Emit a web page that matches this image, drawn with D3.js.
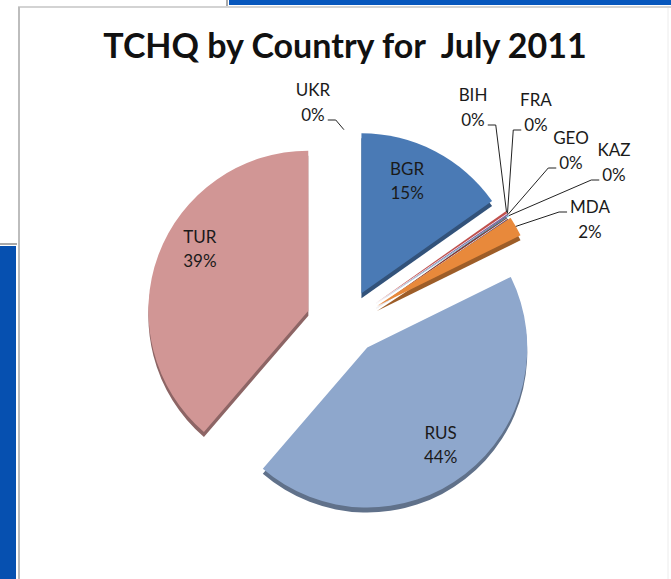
<!DOCTYPE html>
<html>
<head>
<meta charset="utf-8">
<script src="https://cdn.jsdelivr.net/npm/d3@7"></script>
<style>
  body { margin: 0; background: #fff; }
  svg { display: block; }
</style>
</head>
<body>
<div id="chart"></div>
<script>
// chart data (tiny shares are < 0.5% so they show 0%)
const countries = ["BGR", "BIH", "FRA", "GEO", "KAZ", "MDA", "RUS", "TUR", "UKR"];
const shares    = [15.2, 0.25, 0.02, 0.15, 0.1, 2.0, 43.6, 38.67, 0.01];
const colors    = ["#4a7ab5", "#c0504d", "#9bbb59", "#8064a2", "#4bacc6", "#e8893b", "#8ea7cc", "#d19695", "#b9d08c"];
const titleText = "TCHQ by Country for  July 2011";

// hand placed labels for the thin slices (text centre of first line)
const outsideLabels = {
  UKR: { x: 313, y: 90, side: "right", line: 1 },
  BIH: { x: 473, y: 95, side: "right", line: 1 },
  FRA: { x: 536, y: 100, side: "left", line: 1 },
  GEO: { x: 571, y: 138, side: "left", line: 1 },
  KAZ: { x: 614, y: 150, side: "left", line: 1 },
  MDA: { x: 590, y: 207, side: "left", line: 0 }
};
// small nudges for the inside labels (excel moves them a bit in 3d)
const labelNudge = { BGR: [-11, -3], TUR: [7, -19], RUS: [-2, 0] };

var W = 671, H = 579;
var svg = d3.select("#chart").append("svg")
    .attr("width", W)
    .attr("height", H)
    .style("font-family", "Lato, 'Open Sans', sans-serif");

// ---- window frame bits around the chart
svg.append("rect").attr("x", 229).attr("y", 0).attr("width", W - 229).attr("height", 5).attr("fill", "#0757bd");
svg.append("line").attr("x1", 227).attr("x2", 227).attr("y1", 0).attr("y2", 6).attr("stroke", "#a9a9a9").attr("stroke-width", 2);
svg.append("line").attr("x1", 18).attr("x2", W).attr("y1", 7).attr("y2", 7).attr("stroke", "#c4c4c4").attr("stroke-width", 1.5);
svg.append("line").attr("x1", 0).attr("x2", 17).attr("y1", 244).attr("y2", 244).attr("stroke", "#a9a9a9").attr("stroke-width", 2);
svg.append("rect").attr("x", 0).attr("y", 246).attr("width", 16).attr("height", H - 246).attr("fill", "#0650b0");
svg.append("line").attr("x1", 19).attr("x2", 19).attr("y1", 7).attr("y2", H).attr("stroke", "#bdbdbd").attr("stroke-width", 2);
svg.append("line").attr("x1", 668).attr("x2", 668).attr("y1", 8).attr("y2", H).attr("stroke", "#ececec").attr("stroke-width", 1);

// ---- title
svg.append("text")
    .attr("x", 345)
    .attr("y", 58)
    .attr("text-anchor", "middle")
    .style("font-size", "34px")
    .style("font-weight", "bold")
    .attr("fill", "#111")
    .style("white-space", "pre")
    .text(titleText);

// ---- pie
var cx = 344, cy = 322, r = 160, explode = 38, explodeY = 0.85, depth = 5;
var data = countries.map((c, i) => ({ id: c, value: shares[i], color: colors[i] }));
var total = d3.sum(shares);

var pie = d3.pie().sort(null).value(d => d.value);
var arc = d3.arc().innerRadius(0).outerRadius(r);
var arcs = pie(data);
// slices thinner than a pixel hair are not drawn (only their labels)
var visible = arcs.filter(d => d.endAngle - d.startAngle > 0.002);

function mid(a) { return (a.startAngle + a.endAngle) / 2; }
function offset(a) {
  var m = mid(a);
  return [cx + explode * Math.sin(m), cy - explode * explodeY * Math.cos(m)];
}

var g = svg.append("g");

// side walls (dark copy pushed down)
g.selectAll(".side")
  .data(visible)
  .enter().append("path")
    .attr("class", "side")
    .attr("transform", d => { var o = offset(d); return "translate(" + o[0] + "," + (o[1] + depth) + ")"; })
    .attr("d", arc)
    .attr("fill", d => d3.color(d.data.color).darker(1.1));

// top faces
g.selectAll(".slice")
  .data(visible)
  .enter().append("path")
    .attr("class", "slice")
    .attr("transform", d => { var o = offset(d); return "translate(" + o[0] + "," + o[1] + ")"; })
    .attr("d", arc)
    .attr("fill", d => d.data.color);

var pct = d => Math.round(d.data.value / total * 100) + "%";

// labels inside the big slices
var inner = arcs.filter(d => !outsideLabels[d.data.id]);
var innerG = svg.selectAll(".inlabel")
  .data(inner)
  .enter().append("text")
    .attr("class", "inlabel")
    .attr("text-anchor", "middle")
    .style("font-size", "17px")
    .attr("fill", "#1a1a1a")
    .attr("transform", d => {
      var o = offset(d), m = mid(d), n = labelNudge[d.data.id] || [0, 0];
      return "translate(" + (o[0] + 0.77 * r * Math.sin(m) + n[0]) + "," + (o[1] - 0.77 * r * Math.cos(m) + n[1]) + ")";
    });
innerG.append("tspan").attr("x", 0).attr("y", -12).attr("dy", "0.35em").text(d => d.data.id);
innerG.append("tspan").attr("x", 0).attr("y", 12).attr("dy", "0.35em").text(pct);

// labels outside with leader lines
var outer = arcs.filter(d => outsideLabels[d.data.id]);
outer.forEach(function(d) {
  var L = outsideLabels[d.data.id];
  var t = svg.append("text")
      .attr("text-anchor", "middle")
      .style("font-size", "17px")
      .attr("fill", "#1a1a1a");
  var t1 = t.append("tspan").attr("x", L.x).attr("y", L.y).attr("dy", "0.35em").text(d.data.id);
  var t2 = t.append("tspan").attr("x", L.x).attr("y", L.y + 25).attr("dy", "0.35em").text(pct(d));

  var span = L.line === 0 ? t1 : t2;
  var w = span.node().getComputedTextLength();
  var ly = L.y + 25 * L.line + 5;
  var sx = L.side === "right" ? L.x + w / 2 + 3 : L.x - w / 2 - 3;
  var ex = L.side === "right" ? sx + 8 : sx - 8;

  var o = offset(d), m = mid(d);
  var ax = o[0] + r * Math.sin(m), ay = o[1] - r * Math.cos(m);

  svg.append("path")
    .attr("d", "M" + sx + "," + ly + " L" + ex + "," + ly + " L" + ax + "," + ay)
    .attr("fill", "none")
    .attr("stroke", "#222")
    .attr("stroke-width", 1);
});
</script>
</body>
</html>
